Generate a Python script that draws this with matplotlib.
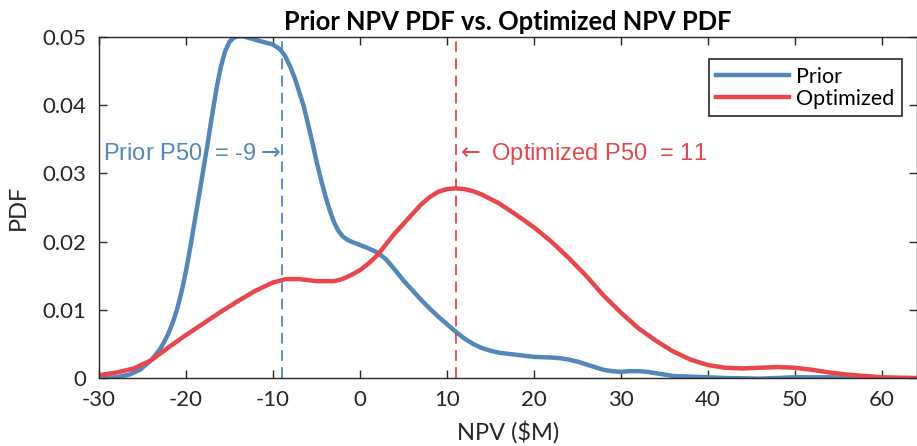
import matplotlib
matplotlib.use("Agg")
import matplotlib.pyplot as plt

plt.rcParams['font.family'] = ['Lato', 'DejaVu Sans']
plt.rcParams['axes.unicode_minus'] = False

# NPV ($M) vs PDF for the prior run
prior_x = [-30, -28, -26.5, -25.3, -24, -23, -22.5, -22, -21.5, -21, -20.5, -20, -19.5,
           -19, -18.5, -18, -17.5, -17, -16.5, -16, -15.5, -15, -14.5, -14, -13.4,
           -12.6, -11.5, -10.0, -9.2, -8.6, -8, -7.5, -7, -6.5, -6, -5.5, -5, -4.5, -4,
           -3.5, -3, -2.5, -2, -1.5, -1, 0, 1, 2, 3, 4, 5, 6, 7, 8, 9, 10, 11, 12, 13,
           14, 15, 16, 18, 20, 22, 23, 24, 25, 26, 27, 28, 29, 30, 31, 32, 33, 34, 35,
           36, 38, 42, 46, 50, 54, 57, 59.5]
prior_pdf = [0.0000, 0.0001, 0.0005, 0.0012, 0.0026, 0.0042, 0.0053, 0.0066, 0.0082,
             0.0102, 0.0127, 0.0157, 0.0192, 0.0230, 0.0268, 0.0306, 0.0345, 0.0385,
             0.0424, 0.0456, 0.0479, 0.0493, 0.0499, 0.0501, 0.0501, 0.0498, 0.0494,
             0.0489, 0.0482, 0.0472, 0.0456, 0.0440, 0.0420, 0.0400, 0.0374, 0.0347,
             0.0318, 0.0292, 0.0268, 0.0247, 0.0229, 0.0216, 0.0208, 0.0203, 0.0200,
             0.0195, 0.0190, 0.0184, 0.0174, 0.0159, 0.0143, 0.0129, 0.0115, 0.0102,
             0.0090, 0.0079, 0.0068, 0.0058, 0.0050, 0.0044, 0.0040, 0.0037, 0.0034,
             0.0031, 0.0030, 0.0029, 0.0027, 0.0024, 0.0020, 0.0016, 0.0012, 0.0010,
             0.0009, 0.0010, 0.0010, 0.0009, 0.0007, 0.0005, 0.0003, 0.0002, 0.0000,
             -0.0001, 0.0001, 0.0001, 0.0000, -0.0001]

# NPV ($M) vs PDF after optimization
opt_x = [-30, -28, -26, -24, -22, -20, -18, -16, -14, -12, -10, -8.5, -7, -5, -3, -2,
         -1, 0, 1, 2, 3, 4, 5, 6, 7, 8, 9, 10, 11, 12, 13, 14, 16, 18, 20, 22, 24, 26,
         28, 30, 32, 34, 36, 38, 40, 42, 44, 46, 48, 50, 52, 54, 56, 58, 60, 63.8]
opt_pdf = [0.0004, 0.0008, 0.0014, 0.0026, 0.0045, 0.0063, 0.0080, 0.0097, 0.0113,
           0.0128, 0.0140, 0.0145, 0.0145, 0.0142, 0.0142, 0.0145, 0.0151, 0.0158,
           0.0168, 0.0180, 0.0196, 0.0212, 0.0226, 0.0240, 0.0254, 0.0265, 0.0273,
           0.0277, 0.0278, 0.0277, 0.0274, 0.0269, 0.0256, 0.0239, 0.0221, 0.0200,
           0.0176, 0.0150, 0.0121, 0.0096, 0.0073, 0.0055, 0.0039, 0.0027, 0.0019,
           0.0015, 0.0014, 0.0015, 0.0016, 0.0015, 0.0012, 0.0008, 0.0005, 0.0003,
           0.0001, 0.0000]

prior_p50 = -9
opt_p50 = 11

blue = '#5287B9'
red = '#E8464B'
dark = '#262626'

fig = plt.figure(figsize=(9.17, 4.46), dpi=100)
ax = fig.add_axes([0.108, 0.1525, 0.8915, 0.7646])

ax.plot(prior_x, prior_pdf, color=blue, lw=3.2, label='Prior')
ax.plot(opt_x, opt_pdf, color=red, lw=3.2, label='Optimized')
ax.axvline(prior_p50, color=blue, lw=1.3, linestyle=(0, (6, 3.5)))
ax.axvline(opt_p50, color=red, lw=1.3, linestyle=(0, (6, 3.5)))

# P50 markers, arrows pointing at the dashed lines
ax.text(prior_p50, 0.0329, f'Prior P50  = {prior_p50}' + r'$\rightarrow$', color=blue,
        fontsize=17, ha='right', va='center', family=['Liberation Sans', 'DejaVu Sans'])
ax.text(opt_p50, 0.0329, r'$\leftarrow$' + f' Optimized P50  = {opt_p50}', color=red,
        fontsize=17, ha='left', va='center', family=['Liberation Sans', 'DejaVu Sans'])

ax.set_xlim(-30, 64)
ax.set_ylim(0, 0.05)
ax.set_xticks([-30, -20, -10, 0, 10, 20, 30, 40, 50, 60])
ax.set_yticks([0, 0.01, 0.02, 0.03, 0.04, 0.05])
ax.set_yticklabels(['0', '0.01', '0.02', '0.03', '0.04', '0.05'])
ax.tick_params(direction='in', top=True, right=True, length=6, width=1,
               labelsize=16, colors=dark)
ax.tick_params(axis='x', pad=9)
ax.tick_params(axis='y', pad=9)
for s in ax.spines.values():
    s.set_color(dark)
    s.set_linewidth(1)

ax.set_xlabel('NPV ($M)', fontsize=17, color=dark, labelpad=7)
ax.set_ylabel('PDF', fontsize=17, color=dark, labelpad=10)
ax.set_title('Prior NPV PDF vs. Optimized NPV PDF', fontsize=18.4, fontweight='bold',
             pad=5)

leg = ax.legend(loc='upper right', bbox_to_anchor=(0.9817, 0.9355), borderaxespad=0,
                fontsize=15.5, handlelength=3.4, handletextpad=0.3, labelspacing=0.1,
                borderpad=0.35, fancybox=False, framealpha=1)
leg.get_frame().set_edgecolor(dark)
leg.get_frame().set_linewidth(1.2)

fig.savefig('out.png', dpi=100)
